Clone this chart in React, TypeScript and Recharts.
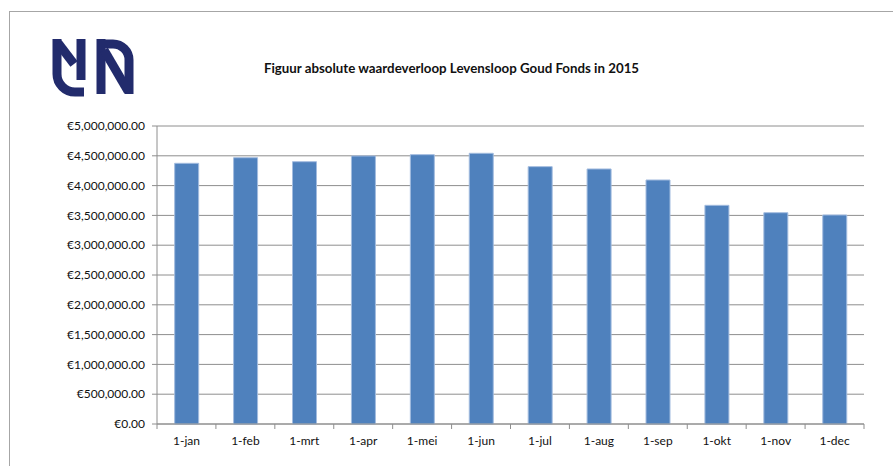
import React from "react";
import { BarChart, Bar, XAxis, YAxis, CartesianGrid } from "recharts";

const maanden = ["1-jan", "1-feb", "1-mrt", "1-apr", "1-mei", "1-jun", "1-jul", "1-aug", "1-sep", "1-okt", "1-nov", "1-dec"];
const waarde = [4374000, 4468000, 4401000, 4497000, 4519000, 4542000, 4318000, 4279000, 4094000, 3669000, 3545000, 3507000];
const yTicks = [0, 500000, 1000000, 1500000, 2000000, 2500000, 3000000, 3500000, 4000000, 4500000, 5000000];

const data = maanden.map((m, i) => ({ maand: m, waarde: waarde[i] }));

const FONT = "Lato, 'Liberation Sans', sans-serif";
const GRIJS = "#8e8e8e";

function euro(v: number) {
  const heel = Math.round(v).toString().replace(/\B(?=(\d{3})+(?!\d))/g, ",");
  return "\u20ac" + heel + ".00";
}

function MaandTick(props: any) {
  const { x, y, payload, index } = props;
  const half = payload && payload.offset ? payload.offset : 29.45;
  return (
    <g>
      <line x1={x - half} y1={y} x2={x - half} y2={y + 5} stroke={GRIJS} />
      {index === maanden.length - 1 && (
        <line x1={x + half} y1={y} x2={x + half} y2={y + 5} stroke={GRIJS} />
      )}
      <text x={x} y={y + 12} dy="0.71em" textAnchor="middle" fontSize={12} fill="#111" fontFamily={FONT}>
        {payload.value}
      </text>
    </g>
  );
}

function Logo() {
  const c = "#222b6c";
  return (
    <svg width={150} height={110} style={{ position: "absolute", left: 0, top: 0 }}>
      <g fill="none" stroke={c} strokeWidth={9}>
        <path d="M57 39 V74 A18 18 0 0 0 75 92 H84" />
        <path d="M58 43 L74 64" />
        <path d="M81 39 V80" />
        <path d="M101 39 V94" />
        <path d="M101 44 H113 A16 16 0 0 1 129 60 V94" />
        <path d="M104 50 L128 91" />
      </g>
    </svg>
  );
}

export default function App() {
  return (
    <div style={{ position: "absolute", left: 0, top: 0, width: 893, height: 466, overflow: "hidden", background: "#fff" }}>
      <div
        style={{
          position: "absolute",
          left: 9,
          top: 11,
          width: 1000,
          height: 600,
          borderTop: "1px solid #a6a6a6",
          borderLeft: "1px solid #a6a6a6",
        }}
      />
      <Logo />
      <div
        style={{
          position: "absolute",
          left: 0,
          width: 903,
          top: 60,
          textAlign: "center",
          fontFamily: FONT,
          fontWeight: "bold",
          fontSize: 13.3,
          color: "#111",
        }}
      >
        Figuur absolute waardeverloop Levensloop Goud Fonds in 2015
      </div>
      <div style={{ position: "absolute", left: 0, top: 0 }}>
        <BarChart
          width={893}
          height={466}
          data={data}
          margin={{ top: 126, right: 29, left: 0, bottom: 12 }}
          barCategoryGap="30%"
        >
          <CartesianGrid vertical={false} stroke={GRIJS} strokeWidth={1} />
          <XAxis
            dataKey="maand"
            height={30}
            tickLine={false}
            tickSize={0}
            tickMargin={0}
            stroke={GRIJS}
            tick={<MaandTick />}
            interval={0}
          />
          <YAxis
            width={157}
            domain={[0, 5000000]}
            ticks={yTicks}
            tickFormatter={euro}
            tickSize={5}
            tickMargin={7}
            stroke={GRIJS}
            tick={{ fontSize: 12, fill: "#111", fontFamily: FONT }}
            interval={0}
          />
          <Bar dataKey="waarde" fill="#4f81bd" stroke="#a3bcdf" strokeWidth={1} isAnimationActive={false} />
        </BarChart>
      </div>
    </div>
  );
}
